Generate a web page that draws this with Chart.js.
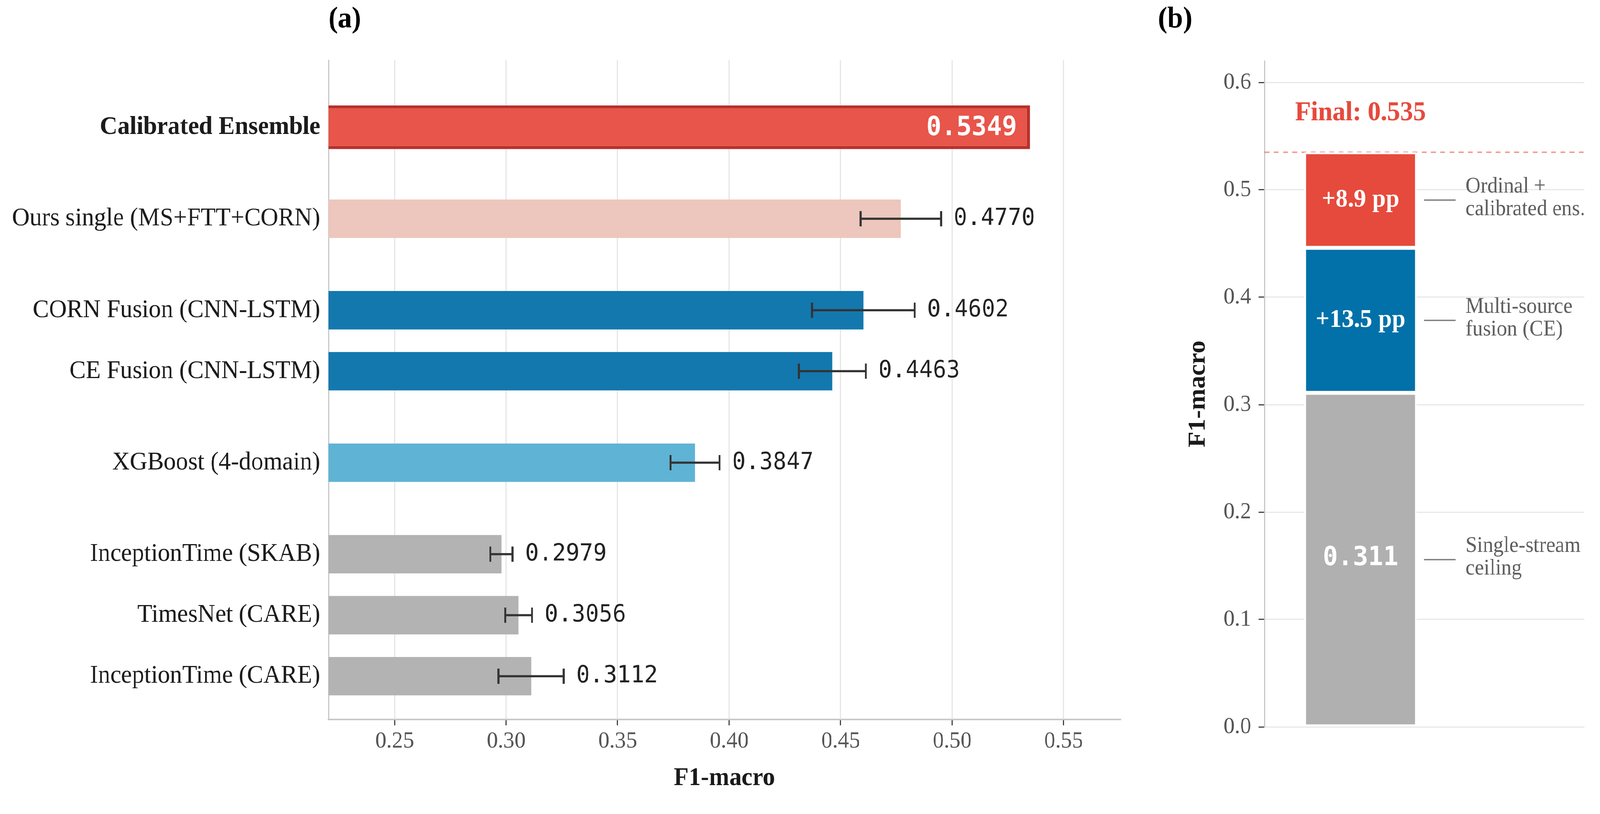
<!DOCTYPE html>
<html>
<head>
<meta charset="utf-8">
<title>F1-macro comparison</title>
<script src="https://cdn.jsdelivr.net/npm/chart.js@4.4.1/dist/chart.umd.min.js"></script>
<style>
  html, body { margin: 0; padding: 0; background: #fff; overflow: hidden; }
  #wrap { position: relative; width: 4326px; height: 2084px; overflow: hidden; transform-origin: 0 0; }
  canvas { position: absolute; top: 0; }
  #chartA { left: 0; }
  #chartB { left: 3100px; }
</style>
</head>
<body>
<div id="wrap">
  <canvas id="chartA" width="3100" height="2084"></canvas>
  <canvas id="chartB" width="1226" height="2084"></canvas>
</div>
<script>
const SERIF = '"Liberation Serif", "Times New Roman", serif';
const MONO = '"DejaVu Sans Mono", monospace';

// the figure is 4326 wide; squeeze it into a narrower window if needed
const fitX = Math.min(1, window.innerWidth / 4326);
const fitY = Math.min(1, window.innerHeight / 2084);
document.getElementById('wrap').style.transform = `scale(${fitX}, ${fitY})`;

// ── Panel (a) data, listed top to bottom ─────────────────────────────────────
const models = [
  'Calibrated Ensemble',
  'Ours single (MS+FTT+CORN)',
  'CORN Fusion (CNN-LSTM)',
  'CE Fusion (CNN-LSTM)',
  'XGBoost (4-domain)',
  'InceptionTime (SKAB)',
  'TimesNet (CARE)',
  'InceptionTime (CARE)',
];
const f1 = [0.5349, 0.4770, 0.4602, 0.4463, 0.3847, 0.2979, 0.3056, 0.3112];
const f1Std = [null, 0.018, 0.023, 0.015, 0.011, 0.005, 0.006, 0.0146];
const groupOf = [0, 1, 2, 2, 3, 4, 4, 4];
const xTicks = [0.25, 0.30, 0.35, 0.40, 0.45, 0.50, 0.55];

// ── Panel (b) data, bottom to top ────────────────────────────────────────────
const stepNames = ['Single-stream\nceiling', 'Multi-source\nfusion (CE)', 'Ordinal +\ncalibrated ens.'];
const stepGain = [0.311, 0.135, 0.089];
const stepText = ['0.311', '+13.5 pp', '+8.9 pp'];
const finalScore = 0.535;
const yTicksB = [0, 0.1, 0.2, 0.3, 0.4, 0.5, 0.6];

const barColors = ['#E8554A', '#EDC6BD', '#1378AE', '#1378AE', '#5FB3D4', '#B3B3B3', '#B3B3B3', '#B3B3B3'];
const stepColors = ['#B0B0B0', '#0271A9', '#E64A3C'];

// groups are separated by an extra half slot
const lastGroup = Math.max(...groupOf);
const pos = models.map((_, i) => (models.length - 1 - i) + 0.5 * (lastGroup - groupOf[i]));
const best = f1Std.indexOf(null);

Chart.defaults.font.family = SERIF;

// ── Panel (a) ────────────────────────────────────────────────────────────────
const errorBars = {
  id: 'errorBars',
  afterDatasetsDraw(chart) {
    const { ctx, scales: { x, y } } = chart;
    ctx.save();
    models.forEach((m, i) => {
      const cy = y.getPixelForValue(pos[i]);
      if (f1Std[i] == null) {
        ctx.font = `bold 68px ${MONO}`;
        ctx.fillStyle = '#fff';
        ctx.textAlign = 'right';
        ctx.textBaseline = 'alphabetic';
        ctx.fillText(f1[i].toFixed(4), x.getPixelForValue(f1[i]) - 35, cy + 20);
        return;
      }
      const lo = x.getPixelForValue(f1[i] - f1Std[i]);
      const hi = x.getPixelForValue(f1[i] + f1Std[i]);
      ctx.strokeStyle = '#333';
      ctx.lineWidth = 5.5;
      ctx.beginPath();
      ctx.moveTo(lo, cy); ctx.lineTo(hi, cy);
      ctx.moveTo(lo, cy - 19.5); ctx.lineTo(lo, cy + 19.5);
      ctx.moveTo(hi, cy - 19.5); ctx.lineTo(hi, cy + 19.5);
      ctx.stroke();
      ctx.font = `61px ${MONO}`;
      ctx.fillStyle = '#222';
      ctx.textAlign = 'left';
      ctx.textBaseline = 'alphabetic';
      ctx.fillText(f1[i].toFixed(4), hi + 34, cy + 16);
    });
    ctx.font = `bold 76px ${SERIF}`;
    ctx.fillStyle = '#000';
    ctx.textAlign = 'left';
    ctx.fillText('(a)', chart.chartArea.left, 70);
    ctx.restore();
  },
};

const others = models.map((_, i) => i).filter((i) => i !== best);

new Chart(document.getElementById('chartA'), {
  type: 'bar',
  data: {
    datasets: [
      {
        data: others.map((i) => ({ x: f1[i], y: pos[i] })),
        backgroundColor: others.map((i) => barColors[i]),
        borderWidth: 0,
        barPercentage: 0.63,
        categoryPercentage: 1,
        grouped: false,
      },
      {
        data: [{ x: f1[best], y: pos[best] }],
        backgroundColor: barColors[best],
        borderColor: '#B8302A',
        borderWidth: 8,
        borderSkipped: false,
        barPercentage: 0.717,
        categoryPercentage: 1,
        grouped: false,
      },
    ],
  },
  options: {
    indexAxis: 'y',
    responsive: false,
    animation: false,
    devicePixelRatio: 1,
    layout: { padding: { left: 0, top: 154, right: 71, bottom: 0 } },
    plugins: { legend: { display: false }, tooltip: { enabled: false } },
    scales: {
      x: {
        type: 'linear',
        min: 0.2203,
        max: 0.5754,
        afterBuildTicks: (s) => { s.ticks = xTicks.map((v) => ({ value: v })); },
        afterFit: (s) => { s.height = 242; },
        ticks: {
          autoSkip: false, maxRotation: 0, padding: 5,
          color: '#555', font: { family: SERIF, size: 60 },
          callback: (v) => Number(v).toFixed(2),
        },
        grid: { color: '#E6E6E6', lineWidth: 3, tickColor: '#444', tickLength: 15, tickWidth: 3 },
        border: { display: true, color: '#C8C8C8', width: 4 },
        title: {
          display: true, text: 'F1-macro', color: '#1a1a1a',
          font: { family: SERIF, size: 66, weight: 'bold' },
          padding: { top: 0, bottom: 51 },
        },
      },
      y: {
        type: 'linear',
        offset: false,
        min: -0.71,
        max: 10.1,
        afterBuildTicks: (s) => { s.ticks = pos.map((v) => ({ value: v })); },
        afterFit: (s) => { s.width = 888; },
        ticks: {
          autoSkip: false, padding: 22, color: '#1c1c1c',
          font: (c) => ({ family: SERIF, size: 66, weight: c.tick && c.tick.value === pos[best] ? 'bold' : 'normal' }),
          callback: (v) => models[pos.indexOf(v)],
        },
        grid: { display: false, drawTicks: false, offset: false },
        border: { display: true, color: '#C8C8C8', width: 3 },
      },
    },
  },
  plugins: [errorBars],
});

// ── Panel (b) ────────────────────────────────────────────────────────────────
const stepLabels = {
  id: 'stepLabels',
  beforeDatasetsDraw(chart) {
    const { ctx, chartArea, scales: { y } } = chart;
    const py = y.getPixelForValue(finalScore);
    ctx.save();
    ctx.strokeStyle = 'rgba(231, 76, 60, 0.6)';
    ctx.lineWidth = 3.5;
    ctx.setLineDash([13, 12]);
    ctx.beginPath();
    ctx.moveTo(chartArea.left, py);
    ctx.lineTo(chartArea.right, py);
    ctx.stroke();
    ctx.restore();
  },
  afterDatasetsDraw(chart) {
    const { ctx, chartArea, scales: { y } } = chart;
    ctx.save();
    let cx = 0;
    chart.data.datasets.forEach((ds, k) => {
      const bar = chart.getDatasetMeta(k).data[0];
      const cy = (bar.y + bar.base) / 2;
      cx = bar.x;
      ctx.textAlign = 'center';
      ctx.textBaseline = 'middle';
      ctx.fillStyle = '#fff';
      ctx.font = k === 0 ? `bold 68px ${MONO}` : `bold 66px ${SERIF}`;
      ctx.fillText(stepText[k], bar.x, k === 0 ? cy - 3 : cy);

      const right = bar.x + bar.width / 2;
      ctx.strokeStyle = '#808080';
      ctx.lineWidth = 3.5;
      ctx.beginPath();
      ctx.moveTo(right + 20, cy);
      ctx.lineTo(right + 105, cy);
      ctx.stroke();

      const lines = stepNames[k].split('\n');
      ctx.font = `56px ${SERIF}`;
      ctx.fillStyle = '#5f5f5f';
      ctx.textAlign = 'left';
      lines.forEach((t, j) => ctx.fillText(t, right + 132, cy - 5 + (j - (lines.length - 1) / 2) * 58));
    });
    ctx.font = `bold 70px ${SERIF}`;
    ctx.fillStyle = '#E64A3C';
    ctx.textAlign = 'center';
    ctx.textBaseline = 'middle';
    ctx.fillText(`Final: ${finalScore.toFixed(3)}`, cx, y.getPixelForValue(finalScore) - 100);

    ctx.font = `bold 76px ${SERIF}`;
    ctx.fillStyle = '#000';
    ctx.textAlign = 'left';
    ctx.textBaseline = 'alphabetic';
    ctx.fillText('(b)', chartArea.left - 288, 70);
    ctx.restore();
  },
};

new Chart(document.getElementById('chartB'), {
  type: 'bar',
  data: {
    datasets: stepGain.map((v, k) => ({
      data: [{ x: 0, y: v }],
      backgroundColor: stepColors[k],
      borderColor: '#fff',
      borderWidth: 5,
      borderSkipped: false,
      barPercentage: 0.3514,
      categoryPercentage: 1,
    })),
  },
  options: {
    responsive: false,
    animation: false,
    devicePixelRatio: 1,
    layout: { padding: { left: 0, top: 156, right: 42, bottom: 223 } },
    plugins: { legend: { display: false }, tooltip: { enabled: false } },
    scales: {
      x: {
        type: 'linear', display: false, stacked: true, offset: false,
        min: -0.48, max: 1.12,
        afterBuildTicks: (s) => { s.ticks = [{ value: 0 }]; },
        grid: { offset: false },
      },
      y: {
        type: 'linear', stacked: true,
        min: 0, max: 0.62,
        afterBuildTicks: (s) => { s.ticks = yTicksB.map((v) => ({ value: v })); },
        afterFit: (s) => { s.width = 319; },
        ticks: {
          padding: 20, color: '#555', font: { family: SERIF, size: 60 },
          callback: (v) => Number(v).toFixed(1),
        },
        grid: { color: '#E8E8E8', lineWidth: 3, tickColor: '#444', tickLength: 16, tickWidth: 3 },
        border: { display: true, color: '#C8C8C8', width: 3 },
        title: {
          display: true, text: 'F1-macro', color: '#1a1a1a',
          font: { family: SERIF, size: 66, weight: 'bold' },
          padding: { top: 100, bottom: 0 },
        },
      },
    },
  },
  plugins: [stepLabels],
});
</script>
</body>
</html>
